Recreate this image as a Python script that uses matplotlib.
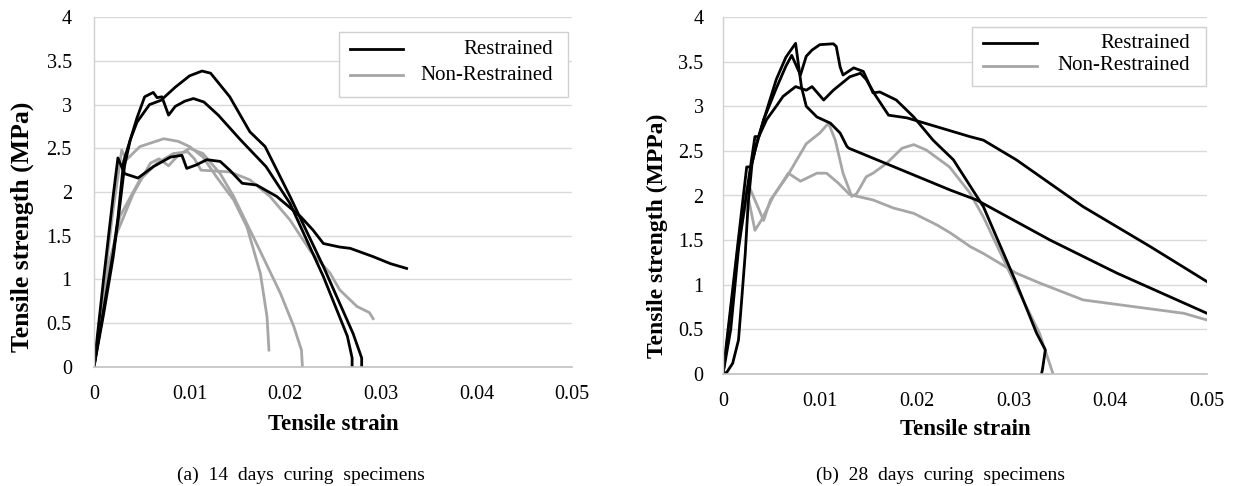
import matplotlib
matplotlib.use("Agg")
import matplotlib.pyplot as plt
from matplotlib.lines import Line2D
from matplotlib.patches import Rectangle

plt.rcParams['font.family'] = ['Liberation Serif', 'DejaVu Serif']

# ---------------- data: 14 days curing ----------------
r14_1_x = [0, 0.001, 0.002, 0.0025, 0.0031, 0.0038, 0.0045, 0.0053, 0.0062, 0.0066, 0.0071, 0.0078, 0.0085,
           0.0095, 0.0104, 0.0115, 0.013, 0.0153, 0.018, 0.0205, 0.024, 0.0265, 0.027, 0.027]
r14_1_y = [0, 0.65, 1.3, 1.7, 2.35, 2.6, 2.85, 3.09, 3.14, 3.08, 3.09, 2.88, 2.98,
           3.04, 3.07, 3.03, 2.88, 2.60, 2.29, 1.87, 1.03, 0.35, 0.1, 0]
r14_2_x = [0, 0.001, 0.002, 0.0026, 0.0032, 0.0038, 0.0045, 0.0058, 0.0070, 0.0085, 0.0100, 0.0113, 0.0122,
           0.0142, 0.0153, 0.0163, 0.0179, 0.0205, 0.024, 0.0271, 0.028, 0.028]
r14_2_y = [0, 0.6, 1.25, 1.75, 2.3, 2.6, 2.8, 3.0, 3.05, 3.2, 3.33, 3.385, 3.36,
           3.09, 2.88, 2.69, 2.52, 1.95, 1.145, 0.38, 0.1, 0]
r14_3_x = [0, 0.001, 0.002, 0.0025, 0.0032, 0.0046, 0.0062, 0.0080, 0.0092, 0.0097, 0.0107, 0.0118, 0.0132,
           0.0142, 0.0155, 0.0170, 0.0191, 0.0216, 0.0229, 0.0240, 0.0257, 0.0268, 0.0292, 0.0310, 0.0327]
r14_3_y = [0, 1.0, 1.95, 2.39, 2.21, 2.16, 2.29, 2.40, 2.42, 2.27, 2.31, 2.37, 2.35,
           2.25, 2.10, 2.08, 1.95, 1.72, 1.565, 1.41, 1.37, 1.355, 1.26, 1.18, 1.125]

n14_1_x = [0, 0.001, 0.002, 0.0029, 0.0034, 0.0048, 0.0073, 0.0088, 0.0100, 0.0114, 0.0128, 0.0146,
           0.0160, 0.0174, 0.0181, 0.0183]
n14_1_y = [0, 0.9, 1.8, 2.48, 2.37, 2.52, 2.61, 2.58, 2.52, 2.40, 2.175, 1.91,
           1.60, 1.07, 0.57, 0.19]
n14_2_x = [0, 0.0008, 0.0016, 0.0024, 0.0041, 0.0059, 0.0068, 0.0078, 0.0088, 0.0100, 0.0114, 0.0132,
           0.0146, 0.0170, 0.0195, 0.0209, 0.0217, 0.0218]
n14_2_y = [0, 0.6, 1.2, 1.53, 1.98, 2.33, 2.38, 2.30, 2.42, 2.50, 2.44, 2.21,
           1.95, 1.41, 0.84, 0.46, 0.19, 0]
n14_3_x = [0, 0.001, 0.002, 0.0027, 0.0048, 0.0066, 0.0083, 0.0098, 0.0105, 0.0112, 0.0142, 0.0163, 0.0184,
           0.0205, 0.0226, 0.0247, 0.0257, 0.0275, 0.0288, 0.0292]
n14_3_y = [0, 0.75, 1.35, 1.72, 2.14, 2.33, 2.44, 2.46, 2.38, 2.25, 2.23, 2.14, 1.95,
           1.68, 1.33, 1.07, 0.88, 0.69, 0.62, 0.55]

# ---------------- data: 28 days curing ----------------
r28_1_x = [0, 0.0004, 0.001, 0.0016, 0.0019, 0.0023, 0.0026, 0.0030, 0.0035, 0.0045, 0.0055, 0.0065, 0.0075,
           0.0081, 0.0086, 0.0097, 0.0111, 0.0121, 0.0128, 0.013, 0.0235, 0.0262, 0.0338, 0.0407, 0.05]
r28_1_y = [0, 0.02, 0.12, 0.38, 0.79, 1.35, 1.91, 2.36, 2.6, 2.95, 3.3, 3.55, 3.705,
           3.22, 3.0, 2.88, 2.81, 2.70, 2.55, 2.53, 2.06, 1.95, 1.50, 1.13, 0.68]
r28_2_x = [0, 0.001, 0.002, 0.00245, 0.0029, 0.0033, 0.0042, 0.0055, 0.0065, 0.0071, 0.0080, 0.0086, 0.0092,
           0.010, 0.0114, 0.0117, 0.0121, 0.0124, 0.0135, 0.0145, 0.0155, 0.0162, 0.0179, 0.0197, 0.0217,
           0.0238, 0.0269, 0.0303, 0.0324, 0.0333, 0.0330, 0.0329]
r28_2_y = [0, 0.95, 1.9, 2.32, 2.32, 2.5, 2.85, 3.2, 3.45, 3.57, 3.35, 3.56, 3.63,
           3.69, 3.70, 3.67, 3.44, 3.35, 3.43, 3.39, 3.15, 3.16, 3.07, 2.88, 2.62,
           2.40, 1.875, 1.02, 0.456, 0.27, 0.05, 0]
r28_3_x = [0, 0.0008, 0.0016, 0.0024, 0.0033, 0.0037, 0.0045, 0.0055, 0.0062, 0.0075, 0.0086, 0.0092, 0.0104,
           0.0114, 0.0131, 0.0142, 0.0148, 0.0157, 0.0171, 0.019, 0.0221, 0.0255, 0.0269, 0.0303, 0.0372,
           0.0441, 0.05]
r28_3_y = [0, 0.5, 1.4, 2.0, 2.66, 2.66, 2.85, 3.0, 3.11, 3.22, 3.18, 3.22, 3.07,
           3.18, 3.33, 3.37, 3.30, 3.13, 2.90, 2.87, 2.77, 2.66, 2.62, 2.40, 1.875,
           1.43, 1.035]

n28_1_x = [0, 0.0008, 0.0016, 0.00245, 0.0033, 0.004, 0.0052, 0.00675, 0.0080, 0.0097, 0.0107, 0.0119,
           0.0131, 0.0155, 0.0176, 0.0197, 0.0221, 0.0235, 0.0255, 0.0269, 0.0303, 0.0327, 0.0372, 0.0424,
           0.0476, 0.05]
n28_1_y = [0, 0.7, 1.5, 2.06, 1.61, 1.73, 1.99, 2.25, 2.16, 2.25, 2.25, 2.14,
           2.01, 1.95, 1.86, 1.80, 1.67, 1.58, 1.43, 1.35, 1.13, 1.02, 0.83, 0.755,
           0.68, 0.605]
n28_2_x = [0, 0.0009, 0.0018, 0.0027, 0.0042, 0.0049, 0.0066, 0.0086, 0.0100, 0.0109, 0.0116, 0.0124,
           0.0133, 0.0138, 0.0148, 0.0155, 0.0169, 0.0185, 0.0197, 0.0210, 0.0234, 0.0255, 0.0269, 0.0303,
           0.0327, 0.0341]
n28_2_y = [0, 0.8, 1.6, 2.1, 1.72, 1.95, 2.21, 2.58, 2.70, 2.81, 2.62, 2.25,
           1.99, 2.02, 2.21, 2.25, 2.36, 2.53, 2.57, 2.51, 2.32, 2.03, 1.76, 0.98,
           0.456, 0]

x_ticks = [0, 0.01, 0.02, 0.03, 0.04, 0.05]
x_tick_labels = ["0", "0.01", "0.02", "0.03", "0.04", "0.05"]
y_ticks = [0, 0.5, 1, 1.5, 2, 2.5, 3, 3.5, 4]
y_tick_labels = ["0", "0.5", "1", "1.5", "2", "2.5", "3", "3.5", "4"]
legend_labels = ["Restrained", "Non-Restrained"]

W, H = 1236, 486
fig = plt.figure(figsize=(W / 100, H / 100), dpi=100)

BLACK = "#000000"
GRAY = "#a6a6a6"
LW = 2.0


def px(x, y):
    return x / W, 1 - y / H


def make_axes(l, t, r, b):
    return fig.add_axes([l / W, 1 - b / H, (r - l) / W, (b - t) / H])


def style(ax, ypad):
    ax.set_xlim(0, 0.05)
    ax.set_ylim(0, 4)
    ax.set_xticks(x_ticks)
    ax.set_xticklabels(x_tick_labels)
    ax.set_yticks(y_ticks)
    ax.set_yticklabels(y_tick_labels)
    ax.tick_params(length=0, labelsize=14.5, colors="#000000")
    ax.tick_params(axis="x", pad=13)
    ax.tick_params(axis="y", pad=ypad)
    ax.grid(axis="y", color="#d9d9d9", lw=1.0)
    ax.set_axisbelow(True)
    for s in ["top", "right"]:
        ax.spines[s].set_visible(False)
    ax.spines["left"].set_color("#d0d0d0")
    ax.spines["bottom"].set_color("#c0c0c0")
    ax.spines["left"].set_linewidth(1.0)
    ax.spines["bottom"].set_linewidth(1.2)


def legend_box(x0, y0, x1, y1, lx0, lx1, ly1, ly2, tx):
    fig.add_artist(Rectangle(px(x0, y1), (x1 - x0) / W, (y1 - y0) / H, transform=fig.transFigure,
                             facecolor="white", edgecolor="#d0d0d0", lw=1.0, zorder=5))
    for (yy, col, lab) in [(ly1, BLACK, legend_labels[0]), (ly2, GRAY, legend_labels[1])]:
        a, b = px(lx0, yy)
        c, d = px(lx1, yy)
        fig.add_artist(Line2D([a, c], [b, d], transform=fig.transFigure, color=col, lw=LW, zorder=6))
        tx_, ty_ = px(tx, yy)
        fig.text(tx_, ty_, lab, ha="right", va="center", fontsize=15, zorder=7)


# ---- left chart ----
ax1 = make_axes(94, 17.3, 572, 366.7)
style(ax1, 16)
for xs, ys in [(n14_1_x, n14_1_y), (n14_2_x, n14_2_y), (n14_3_x, n14_3_y)]:
    ax1.plot(xs, ys, color=GRAY, lw=LW, solid_joinstyle="round")
for xs, ys in [(r14_1_x, r14_1_y), (r14_2_x, r14_2_y), (r14_3_x, r14_3_y)]:
    ax1.plot(xs, ys, color=BLACK, lw=LW, solid_joinstyle="round")
legend_box(339, 32, 568, 97, 350, 403, 49, 75, 553)

# ---- right chart ----
ax2 = make_axes(723, 17, 1207, 374)
style(ax2, 14)
for xs, ys in [(n28_1_x, n28_1_y), (n28_2_x, n28_2_y)]:
    ax2.plot(xs, ys, color=GRAY, lw=LW, solid_joinstyle="round")
for xs, ys in [(r28_1_x, r28_1_y), (r28_2_x, r28_2_y), (r28_3_x, r28_3_y)]:
    ax2.plot(xs, ys, color=BLACK, lw=LW, solid_joinstyle="round")
legend_box(972, 27, 1206, 86, 983, 1037, 43, 66, 1190)

# ---- axis labels and captions ----
fig.text(*px(22, 227), "Tensile strength (MPa)", rotation=90, ha="center", va="center",
         fontsize=18.5, fontweight="bold")
fig.text(*px(657, 236), "Tensile strength (MPPa)", rotation=90, ha="center", va="center",
         fontsize=17, fontweight="bold")
fig.text(*px(333, 425), "Tensile strain", ha="center", va="center", fontsize=16.5, fontweight="bold")
fig.text(*px(965, 429), "Tensile strain", ha="center", va="center", fontsize=16.5, fontweight="bold")
fig.text(*px(301, 475), "(a)  14  days  curing  specimens", ha="center", va="center", fontsize=14)
fig.text(*px(941, 475), "(b)  28  days  curing  specimens", ha="center", va="center", fontsize=14)

fig.savefig("out.png", dpi=100)
